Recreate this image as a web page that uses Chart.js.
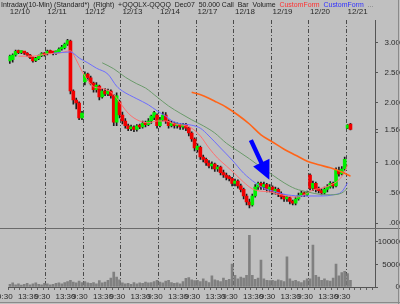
<!DOCTYPE html>
<html><head><meta charset="utf-8">
<script src="https://cdn.jsdelivr.net/npm/chart.js@4/dist/chart.umd.min.js"></script>
<style>
html,body{margin:0;padding:0;background:#c0c0c0;}
#wrap{position:relative;width:400px;height:304px;overflow:hidden;background:#c0c0c0;}
#title{position:absolute;left:1px;top:0px;font-size:8px;font-family:'Liberation Sans Narrow','Liberation Sans',Arial,sans-serif;color:#202020;white-space:nowrap;transform-origin:0 0;line-height:9px;}
#title .r{color:#ff3030}#title .b{color:#3030ff}#title .g{color:#707070}
canvas{position:absolute;left:0;top:0;}
#edgeR{position:absolute;left:398px;top:0;width:1px;height:304px;background:#8a8a8a}
#edgeB{position:absolute;left:0;top:302px;width:400px;height:1px;background:#8a8a8a}
</style></head>
<body><div id="wrap">
<canvas id="c" width="400" height="304"></canvas>
<div id="title">Intraday(10-Min) (Standard*)&nbsp; (Right)&nbsp; +QQQLX-QQQQ&nbsp; Dec07&nbsp; 50.000 Call&nbsp; Bar&nbsp; Volume&nbsp; <span class="r">CustomForm</span>&nbsp; <span class="b">CustomForm</span>&nbsp; <span class="g">...</span></div>
<div id="edgeR"></div><div id="edgeB"></div>
</div>
<script>
// ---- data ----
const days = ['12/10','12/11','12/12','12/13','12/14','12/17','12/18','12/19','12/20','12/21'];
const times = ['9:30','10:00','10:30','11:00','11:30','12:00','12:30','13:00','13:30','14:00','14:30','15:00','15:30'];
const bottomTimes = ['9:30','13:30'];
const priceTicks = [0, 0.5, 1, 1.5, 2, 2.5, 3];
const volumeTicks = [0, 5000, 10000];
const lastPrice = 1.56;

const open = [
 2.70,2.72,2.80,2.86,2.84,2.85,2.83,2.80,2.76,2.71,2.74,2.79,2.82,
 2.82,2.86,2.84,2.83,2.85,2.90,2.92,2.98,3.03,2.20,2.05,2.00,1.75,
 2.35,2.48,2.42,2.33,2.22,2.28,2.10,2.20,2.15,2.20,2.12,1.68,2.02,
 1.80,1.70,1.62,1.57,1.60,1.56,1.62,1.60,1.66,1.64,1.70,1.76,1.80,
 1.62,1.72,1.80,1.70,1.62,1.66,1.62,1.64,1.60,1.64,1.58,1.50,1.40,
 1.22,1.26,1.10,1.06,1.00,0.95,0.98,0.90,0.93,0.84,0.80,0.76,0.74,
 0.66,0.70,0.62,0.56,0.45,0.35,0.30,0.45,0.60,0.66,0.60,0.64,0.56,
 0.60,0.52,0.56,0.48,0.44,0.40,0.42,0.36,0.33,0.40,0.46,0.50,0.47,
 0.80,0.58,0.66,0.56,0.54,0.50,0.56,0.60,0.66,0.62,0.86,0.82,0.90,
 1.58,1.65];
const high = [
 2.80,2.82,2.88,2.88,2.87,2.86,2.84,2.81,2.77,2.76,2.80,2.84,2.84,
 2.88,2.88,2.86,2.87,2.92,2.96,3.00,3.06,3.05,2.22,2.08,2.02,1.86,
 2.52,2.50,2.45,2.35,2.34,2.30,2.24,2.24,2.23,2.22,2.14,2.17,2.05,
 1.85,1.74,1.65,1.63,1.62,1.64,1.65,1.70,1.70,1.74,1.80,1.86,1.82,
 1.76,1.85,1.84,1.72,1.70,1.68,1.67,1.66,1.66,1.66,1.60,1.52,1.42,
 1.32,1.28,1.13,1.08,1.04,1.02,1.00,0.96,0.95,0.88,0.83,0.79,0.76,
 0.73,0.72,0.65,0.58,0.48,0.40,0.48,0.64,0.68,0.68,0.68,0.66,0.64,
 0.62,0.60,0.58,0.52,0.47,0.45,0.44,0.38,0.43,0.50,0.53,0.52,0.53,
 0.82,0.70,0.68,0.60,0.57,0.60,0.64,0.69,0.68,0.92,0.93,0.94,1.10,
 1.64,1.66];
const low = [
 2.66,2.68,2.78,2.82,2.82,2.81,2.78,2.74,2.68,2.69,2.72,2.77,2.78,
 2.80,2.82,2.80,2.81,2.84,2.88,2.90,2.96,2.15,1.98,1.90,1.72,1.72,
 2.30,2.38,2.30,2.18,2.18,2.05,2.08,2.12,2.12,2.08,1.62,1.62,1.75,
 1.65,1.58,1.54,1.54,1.52,1.53,1.57,1.58,1.60,1.62,1.66,1.72,1.58,
 1.60,1.70,1.66,1.58,1.60,1.58,1.58,1.56,1.56,1.54,1.45,1.36,1.20,
 1.18,1.06,1.02,0.96,0.92,0.90,0.86,0.86,0.80,0.76,0.72,0.70,0.62,
 0.62,0.58,0.52,0.40,0.30,0.25,0.28,0.43,0.56,0.56,0.56,0.52,0.52,
 0.48,0.48,0.44,0.40,0.36,0.36,0.32,0.30,0.30,0.38,0.44,0.44,0.45,
 0.55,0.54,0.52,0.50,0.47,0.48,0.52,0.58,0.58,0.60,0.78,0.80,0.88,
 1.57,1.55];
const close = [
 2.78,2.80,2.86,2.84,2.85,2.83,2.80,2.76,2.70,2.74,2.79,2.82,2.80,
 2.86,2.84,2.83,2.85,2.90,2.93,2.98,3.04,2.20,2.05,2.00,1.75,1.83,
 2.48,2.42,2.33,2.22,2.30,2.10,2.20,2.15,2.20,2.12,1.68,2.12,1.80,
 1.70,1.62,1.57,1.60,1.56,1.62,1.60,1.66,1.64,1.70,1.78,1.84,1.62,
 1.72,1.80,1.70,1.62,1.66,1.62,1.64,1.60,1.64,1.58,1.50,1.40,1.25,
 1.28,1.10,1.06,1.00,0.95,0.98,0.90,0.93,0.84,0.80,0.76,0.74,0.66,
 0.70,0.62,0.56,0.45,0.35,0.30,0.45,0.60,0.66,0.60,0.64,0.56,0.60,
 0.52,0.56,0.48,0.44,0.40,0.42,0.36,0.33,0.40,0.46,0.50,0.47,0.50,
 0.58,0.66,0.56,0.54,0.50,0.56,0.60,0.66,0.62,0.88,0.82,0.90,1.06,
 1.63,1.56];
const volume = [
 600,900,500,700,400,600,800,500,700,900,600,500,800,
 700,500,600,800,900,700,1000,1200,1500,1100,900,1300,1000,
 1200,900,800,1000,700,1400,900,1100,1500,2000,3300,2200,1600,
 900,700,800,600,1000,700,900,800,1100,900,1000,1200,1500,
 1100,900,1300,1500,1000,800,900,700,1200,1900,2100,1600,1400,
 1500,1200,1800,1300,1000,2500,1600,1400,1200,2000,1500,1700,5100,
 2600,1800,2200,2000,2600,11500,2600,1700,2000,6000,1800,1500,1400,
 1500,1300,1600,1400,1200,6700,1800,1300,1500,1200,1000,1400,1800,
 1800,9300,2600,2200,1500,1800,1400,1300,2000,5100,2500,3200,3500,
 3000,1500];
// moving averages: [bar index, value]
const maRed = [[3,2.78],[8,2.78],[13,2.82],[17,2.83],[21,2.87],[23,2.72],[25,2.53],[27,2.38],[29,2.27],[31,2.25],[33,2.23],[35,2.18],[37,2.08],[39,1.95],[41,1.83],[43,1.75],[45,1.70],[48,1.67],[51,1.70],[54,1.70],[57,1.65],[60,1.63],[63,1.58],[66,1.45],[69,1.25],[72,1.08],[75,0.95],[78,0.82],[81,0.68],[84,0.57],[87,0.53],[90,0.52],[93,0.48],[96,0.45],[99,0.43],[102,0.47],[105,0.55],[108,0.58],[111,0.63],[114,0.72],[116,0.85],[117,0.97]];
const maBlue = [[15,2.83],[21,2.85],[22,2.83],[24,2.75],[27,2.67],[30,2.58],[34,2.48],[37,2.28],[39,2.20],[44,2.07],[48,1.97],[51,1.87],[54,1.78],[57,1.68],[60,1.65],[63,1.63],[66,1.58],[69,1.45],[73,1.25],[77,1.05],[81,0.83],[85,0.67],[88,0.58],[92,0.52],[96,0.47],[102,0.45],[108,0.45],[112,0.47],[115,0.52],[117,0.67]];
const maGreen = [[32,2.67],[36,2.57],[40,2.43],[44,2.32],[47,2.25],[51,2.10],[55,1.95],[59,1.83],[63,1.72],[67,1.62],[71,1.50],[75,1.33],[79,1.20],[83,1.07],[87,0.93],[91,0.80],[95,0.67],[99,0.57],[103,0.52],[107,0.48],[111,0.47],[115,0.50],[117,0.58]];
const maOrange = [[63,2.18],[67,2.12],[71,2.03],[75,1.93],[79,1.80],[83,1.65],[87,1.47],[91,1.35],[95,1.23],[99,1.13],[103,1.03],[107,0.97],[111,0.92],[115,0.85],[118,0.78]];
const arrowTail = [83.5, 1.38];
const arrowTip = [89.9, 0.72];

// ---- build ----
const allLabels = [];
days.forEach(d => times.forEach(t => allLabels.push(d + ' ' + t)));
const labels = allLabels.slice(0, 127);
const FONT = "'Liberation Sans Narrow','Liberation Sans',Arial,sans-serif";
const TXT = '#2a2a2a';
const AX = '#555555';
const nBars = open.length;
const ma = (pairs) => pairs.map(([i, v]) => ({x: labels[i], y: v}));

const arrowPlugin = {
  id: 'arrowAndSep',
  afterDatasetsDraw(chart) {
    const c = chart.ctx, xs = chart.scales.x, ys = chart.scales.y, yv = chart.scales.yv;
    // panel separator
    c.save();
    c.strokeStyle = '#6a6a6a'; c.lineWidth = 1;
    c.beginPath(); c.moveTo(0, Math.round(yv.top) + 0.5); c.lineTo(400, Math.round(yv.top) + 0.5); c.stroke();
    // arrow
    const x1 = xs.getPixelForValue(arrowTail[0]), y1 = ys.getPixelForValue(arrowTail[1]);
    const x2 = xs.getPixelForValue(arrowTip[0]), y2 = ys.getPixelForValue(arrowTip[1]);
    const ang = Math.atan2(y2 - y1, x2 - x1);
    const headLen = 19, headW = 9, shaftW = 2.2;
    const bx = x2 - headLen * Math.cos(ang), by = y2 - headLen * Math.sin(ang);
    const nx = -Math.sin(ang), ny = Math.cos(ang);
    c.fillStyle = '#0000ff';
    c.beginPath();
    c.moveTo(x1 + nx * shaftW, y1 + ny * shaftW);
    c.lineTo(bx + nx * shaftW, by + ny * shaftW);
    c.lineTo(bx + nx * headW, by + ny * headW);
    c.lineTo(x2, y2);
    c.lineTo(bx - nx * headW, by - ny * headW);
    c.lineTo(bx - nx * shaftW, by - ny * shaftW);
    c.lineTo(x1 - nx * shaftW, y1 - ny * shaftW);
    c.closePath(); c.fill();
    c.restore();
  }
};

const dayStart = (i) => i > 0 && labels[i] && labels[i].split(' ')[1] === times[0];

new Chart(document.getElementById('c'), {
  type: 'bar',
  data: {
    labels: labels,
    datasets: [
      {type: 'line', label: 'MA orange', data: ma(maOrange), borderColor: '#ff6418', borderWidth: 1.6, pointRadius: 0, cubicInterpolationMode: 'monotone', yAxisID: 'y', order: 0},
      {type: 'line', label: 'MA green', data: ma(maGreen), borderColor: '#6a9a6a', borderWidth: 1, pointRadius: 0, cubicInterpolationMode: 'monotone', yAxisID: 'y', order: 0},
      {type: 'line', label: 'MA blue', data: ma(maBlue), borderColor: '#6c6cff', borderWidth: 1, pointRadius: 0, cubicInterpolationMode: 'monotone', yAxisID: 'y', order: 0},
      {type: 'line', label: 'MA red', data: ma(maRed), borderColor: '#ff6e6e', borderWidth: 1, pointRadius: 0, cubicInterpolationMode: 'monotone', yAxisID: 'y', order: 0},
      {label: 'body', data: open.map((o, i) => [o, close[i]]), yAxisID: 'y', grouped: false, barThickness: 3, minBarLength: 2,
        backgroundColor: (ctx) => close[ctx.dataIndex] >= open[ctx.dataIndex] ? '#00f000' : '#f00000', order: 1},
      {label: 'wick', data: low.map((l, i) => [l, high[i]]), yAxisID: 'y', grouped: false, barThickness: 1, backgroundColor: '#1c1c1c', order: 2},
      {label: 'volume', data: volume, yAxisID: 'yv', grouped: false, barThickness: 2, backgroundColor: '#808080', order: 3}
    ]
  },
  options: {
    responsive: false, animation: false, devicePixelRatio: 1,
    layout: {padding: {left: 5, top: 0, right: 0, bottom: 0}},
    plugins: {legend: {display: false}, tooltip: {enabled: false}},
    scales: {
      x: {
        type: 'category', position: 'bottom', offset: true,
        grid: {offset: true, drawOnChartArea: true, drawTicks: true, tickLength: 3,
          color: (ctx) => dayStart(ctx.index) ? '#4a4a4a' : 'rgba(0,0,0,0)',
          tickColor: (ctx) => ctx.index % 2 === 0 ? '#606060' : 'rgba(0,0,0,0)', lineWidth: 1},
        border: {display: true, color: AX, width: 1, dash: [4, 2, 1, 2]},
        ticks: {autoSkip: false, maxRotation: 0, minRotation: 0, padding: 2, labelOffset: -5,
          font: {family: FONT, size: 8}, color: TXT,
          callback: (v, i) => { const t = labels[i].split(' ')[1]; return (i < nBars && bottomTimes.includes(t)) ? t : ''; }},
        afterFit: (s) => { s.height = 17; }
      },
      x2: {
        type: 'category', position: 'top', offset: true,
        grid: {display: false, drawTicks: false}, border: {display: false},
        ticks: {autoSkip: false, maxRotation: 0, minRotation: 0, padding: 3, align: 'start', labelOffset: 0,
          font: {family: FONT, size: 8}, color: TXT,
          callback: (v, i) => { const [d, t] = labels[i].split(' '); return t === times[0] ? d : ''; }},
        afterFit: (s) => { s.height = 20; }
      },
      y: {
        type: 'linear', position: 'right', stack: 'panels', stackWeight: 208,
        min: -0.0833, max: 3.383,
        grid: {display: true, drawOnChartArea: false, drawTicks: true, tickLength: 3, color: AX},
        border: {display: true, color: AX},
        ticks: {font: {family: FONT, size: 8}, color: TXT, padding: 3, crossAlign: 'far',
          showLabelBackdrop: (ctx) => !!ctx.tick && ctx.tick.value === lastPrice,
          backdropColor: '#c0c0c0', backdropPadding: 1,
          callback: (v) => v.toFixed(2).replace(/^0/, '')},
        afterBuildTicks: (s) => { s.ticks = priceTicks.map(v => ({value: v})).concat([{value: lastPrice}]); },
        afterFit: (s) => { s.width = 25; }
      },
      yv: {
        type: 'linear', position: 'right', stack: 'panels', stackWeight: 59,
        min: 0, max: 13100,
        grid: {display: true, drawOnChartArea: false, drawTicks: true, tickLength: 3, color: AX},
        border: {display: true, color: AX},
        ticks: {font: {family: FONT, size: 8}, color: TXT, padding: 1, crossAlign: 'far',
          callback: (v) => String(v)},
        afterBuildTicks: (s) => { s.ticks = volumeTicks.map(v => ({value: v})); },
        afterFit: (s) => { s.width = 25; }
      }
    }
  },
  plugins: [arrowPlugin]
});

// fit title width
const tt = document.getElementById('title');
const w = tt.scrollWidth;
tt.style.transform = 'scaleX(' + (372 / w) + ')';
</script>
</body></html>
